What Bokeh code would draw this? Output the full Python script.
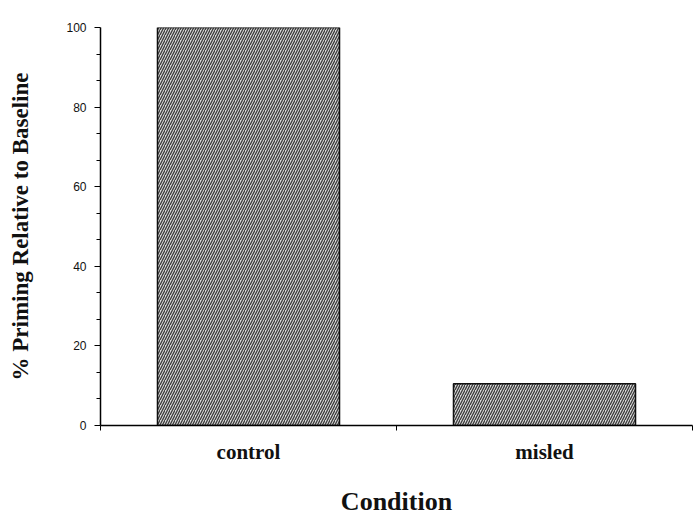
from bokeh.plotting import figure
from bokeh.models import (FactorRange, Range1d, LinearAxis, CategoricalAxis,
                          FixedTicker, ColumnDataSource)
from bokeh.embed import file_html
from bokeh.resources import INLINE

# Priming data by condition
conditions = ["control", "misled"]
priming = [100.0, 10.5]
y_ticks = [0, 20, 40, 60, 80, 100]
y_minor = [t + d for t in y_ticks[:-1] for d in (20 / 3, 40 / 3)]

source = ColumnDataSource(dict(cond=conditions, val=priming))

p = figure(width=693, height=518, output_backend="svg", toolbar_location=None,
           x_range=FactorRange(*conditions, range_padding=0.0),
           y_range=Range1d(0, 100),
           x_axis_location=None, y_axis_location=None,
           min_border_left=100, min_border_right=1,
           min_border_top=27, min_border_bottom=93)
p.outline_line_color = None
p.grid.visible = False
p.background_fill_color = "white"

p.vbar(x="cond", top="val", bottom=0, width=0.615, source=source,
       fill_color="#dadada", line_color="#111111", line_width=1.5,
       hatch_pattern="/", hatch_color="#3a3a3a", hatch_scale=5, hatch_weight=1.3)

serif = "Liberation Serif"

yax = LinearAxis(ticker=FixedTicker(ticks=y_ticks, minor_ticks=y_minor))
yax.axis_line_width = 1.5
yax.major_tick_in = 0
yax.major_tick_out = 6
yax.minor_tick_in = 0
yax.minor_tick_out = 4
yax.major_label_text_font = "Liberation Sans"
yax.major_label_text_font_size = "12px"
yax.major_label_text_color = "#111111"
yax.major_label_standoff = 8
yax.axis_label = "% Priming Relative to Baseline"
yax.axis_label_text_font = serif
yax.axis_label_text_font_style = "bold"
yax.axis_label_text_font_size = "23px"
yax.axis_label_text_color = "#111111"
yax.axis_label_standoff = 30
p.add_layout(yax, "left")

# Boundary ticks between categories (synthetic factor coordinates 0, 1, 2)
edge = LinearAxis(ticker=FixedTicker(ticks=[0, 1, 2], minor_ticks=[]))
edge.axis_line_width = 1.5
edge.major_tick_in = 0
edge.major_tick_out = 5
edge.major_label_text_font_size = "0px"
edge.major_label_text_color = None
edge.major_label_standoff = 0
p.add_layout(edge, "below")

cax = CategoricalAxis()
cax.axis_line_color = None
cax.major_tick_line_color = None
cax.minor_tick_line_color = None
cax.major_label_text_font = serif
cax.major_label_text_font_style = "bold"
cax.major_label_text_font_size = "21px"
cax.major_label_text_color = "#111111"
cax.major_label_standoff = 3
cax.axis_label = "Condition"
cax.axis_label_text_font = serif
cax.axis_label_text_font_style = "bold"
cax.axis_label_text_font_size = "26px"
cax.axis_label_text_color = "#111111"
cax.axis_label_standoff = 20
p.add_layout(cax, "below")

open("out.html", "w").write(file_html(p, INLINE))
